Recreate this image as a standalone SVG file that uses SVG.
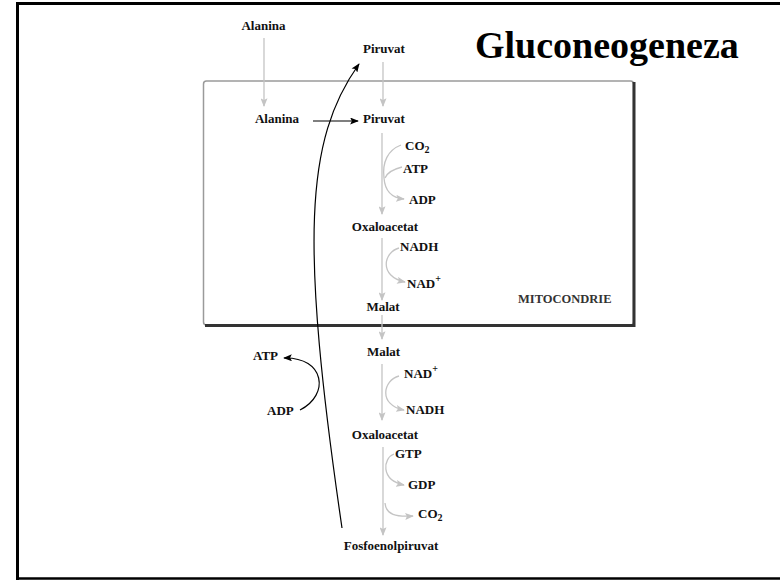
<svg xmlns="http://www.w3.org/2000/svg" width="780" height="580" viewBox="0 0 780 580">
  <style>
    .lbl { font-family: "Liberation Serif", "Times New Roman", serif; font-weight: bold; font-size: 13px; fill: #111; }
    .title { font-family: "Liberation Serif", "Times New Roman", serif; font-weight: bold; font-size: 38px; fill: #000; }
    .mito { font-family: "Liberation Serif", "Times New Roman", serif; font-weight: bold; font-size: 12.5px; fill: #333; }
    .sub { font-size: 10px; }
    .g { fill: none; stroke: #c4c4c4; stroke-width: 1.3; }
    .k { fill: none; stroke: #000; stroke-width: 1.2; }
  </style>
  <defs>
    <marker id="ag" viewBox="0 0 10 8" refX="9" refY="4" markerWidth="9" markerHeight="7" markerUnits="userSpaceOnUse" orient="auto">
      <path d="M0,0 L10,4 L0,8 L2,4 Z" fill="#c4c4c4"/>
    </marker>
    <marker id="ak" viewBox="0 0 10 8" refX="9" refY="4" markerWidth="11" markerHeight="7" markerUnits="userSpaceOnUse" orient="auto">
      <path d="M0,0 L10,4 L0,8 L2,4 Z" fill="#000"/>
    </marker>
  </defs>

  <rect width="780" height="580" fill="#fff"/>

  <!-- outer frame -->
  <path d="M17.5,582 L17.5,3.5 L782,3.5" fill="none" stroke="#000" stroke-width="3"/>
  <line x1="16" y1="578.5" x2="782" y2="578.5" stroke="#000" stroke-width="2.5"/>

  <!-- mitochondrion compartment -->
  <g id="mitocondrie">
    <rect x="203.5" y="81" width="430" height="244" rx="3" fill="none" stroke="#9a9a9a" stroke-width="1.5"/>
    <path d="M634,82 L634,325.5 L205,325.5" fill="none" stroke="#333" stroke-width="3"/>
    <text class="mito" x="518" y="303">MITOCONDRIE</text>
  </g>

  <text id="title" class="title" x="475" y="58">Gluconeogeneza</text>

  <!-- metabolites -->
  <g id="alanina-cyt"><text class="lbl" x="263.5" y="30" text-anchor="middle">Alanina</text></g>
  <g id="piruvat-cyt"><text class="lbl" x="384" y="53" text-anchor="middle">Piruvat</text></g>
  <g id="alanina-mit"><text class="lbl" x="277" y="123" text-anchor="middle">Alanina</text></g>
  <g id="piruvat-mit"><text class="lbl" x="384" y="123" text-anchor="middle">Piruvat</text></g>
  <g id="co2-1"><text class="lbl" x="405" y="150">CO<tspan class="sub" dy="3">2</tspan></text></g>
  <g id="atp-1"><text class="lbl" x="403" y="173">ATP</text></g>
  <g id="adp-1"><text class="lbl" x="409" y="204">ADP</text></g>
  <g id="oxaloacetat-mit"><text class="lbl" x="385" y="231" text-anchor="middle">Oxaloacetat</text></g>
  <g id="nadh-1"><text class="lbl" x="400" y="251">NADH</text></g>
  <g id="nad-1"><text class="lbl" x="407" y="288">NAD<tspan class="sub" dy="-6">+</tspan></text></g>
  <g id="malat-mit"><text class="lbl" x="383" y="311" text-anchor="middle">Malat</text></g>
  <g id="malat-cyt"><text class="lbl" x="383.5" y="356" text-anchor="middle">Malat</text></g>
  <g id="nad-2"><text class="lbl" x="404" y="378">NAD<tspan class="sub" dy="-6">+</tspan></text></g>
  <g id="nadh-2"><text class="lbl" x="406" y="414">NADH</text></g>
  <g id="oxaloacetat-cyt"><text class="lbl" x="385" y="439" text-anchor="middle">Oxaloacetat</text></g>
  <g id="gtp"><text class="lbl" x="395" y="458">GTP</text></g>
  <g id="gdp"><text class="lbl" x="408" y="489">GDP</text></g>
  <g id="co2-2"><text class="lbl" x="418" y="518">CO<tspan class="sub" dy="3">2</tspan></text></g>
  <g id="fosfoenolpiruvat"><text class="lbl" x="391" y="550" text-anchor="middle">Fosfoenolpiruvat</text></g>
  <g id="atp-2"><text class="lbl" x="253" y="360">ATP</text></g>
  <g id="adp-2"><text class="lbl" x="267" y="415">ADP</text></g>

  <!-- connectors -->
  <g id="connectors">
    <!-- transport steps -->
    <line class="g" x1="264" y1="38" x2="264" y2="106" marker-end="url(#ag)"/>
    <line class="g" x1="383" y1="62" x2="383" y2="106" marker-end="url(#ag)"/>
    <!-- main pathway -->
    <line class="g" x1="382" y1="133" x2="382" y2="214" marker-end="url(#ag)"/>
    <line class="g" x1="382" y1="238" x2="382" y2="300" marker-end="url(#ag)"/>
    <line class="g" x1="382" y1="315" x2="382" y2="339" marker-end="url(#ag)"/>
    <line class="g" x1="382" y1="364" x2="382" y2="420" marker-end="url(#ag)"/>
    <line class="g" x1="383" y1="447" x2="383" y2="535" marker-end="url(#ag)"/>
    <!-- cofactor side arcs -->
    <path class="g" d="M401,145 C388,150 382,162 384,178"/>
    <path class="g" d="M402,167 C394,169 387,173 385,178"/>
    <path class="g" d="M384,178 C385,192 392,198 404,199" marker-end="url(#ag)"/>
    <path class="g" d="M399,248 C384,252 378,276 405,282" marker-end="url(#ag)"/>
    <path class="g" d="M399,376 C383,380 378,405 404,410" marker-end="url(#ag)"/>
    <path class="g" d="M394,454 C383,458 380,480 404,485" marker-end="url(#ag)"/>
    <path class="g" d="M385,503 C386,515 396,517 413,516" marker-end="url(#ag)"/>
    <!-- black arrows -->
    <line class="k" x1="313" y1="121" x2="358" y2="121" marker-end="url(#ak)"/>
    <path class="k" d="M342,528 C300,240 305,140 359,64" marker-end="url(#ak)"/>
    <path class="k" d="M300,410 C330,395 325,357 284,358" marker-end="url(#ak)"/>
  </g>
</svg>
